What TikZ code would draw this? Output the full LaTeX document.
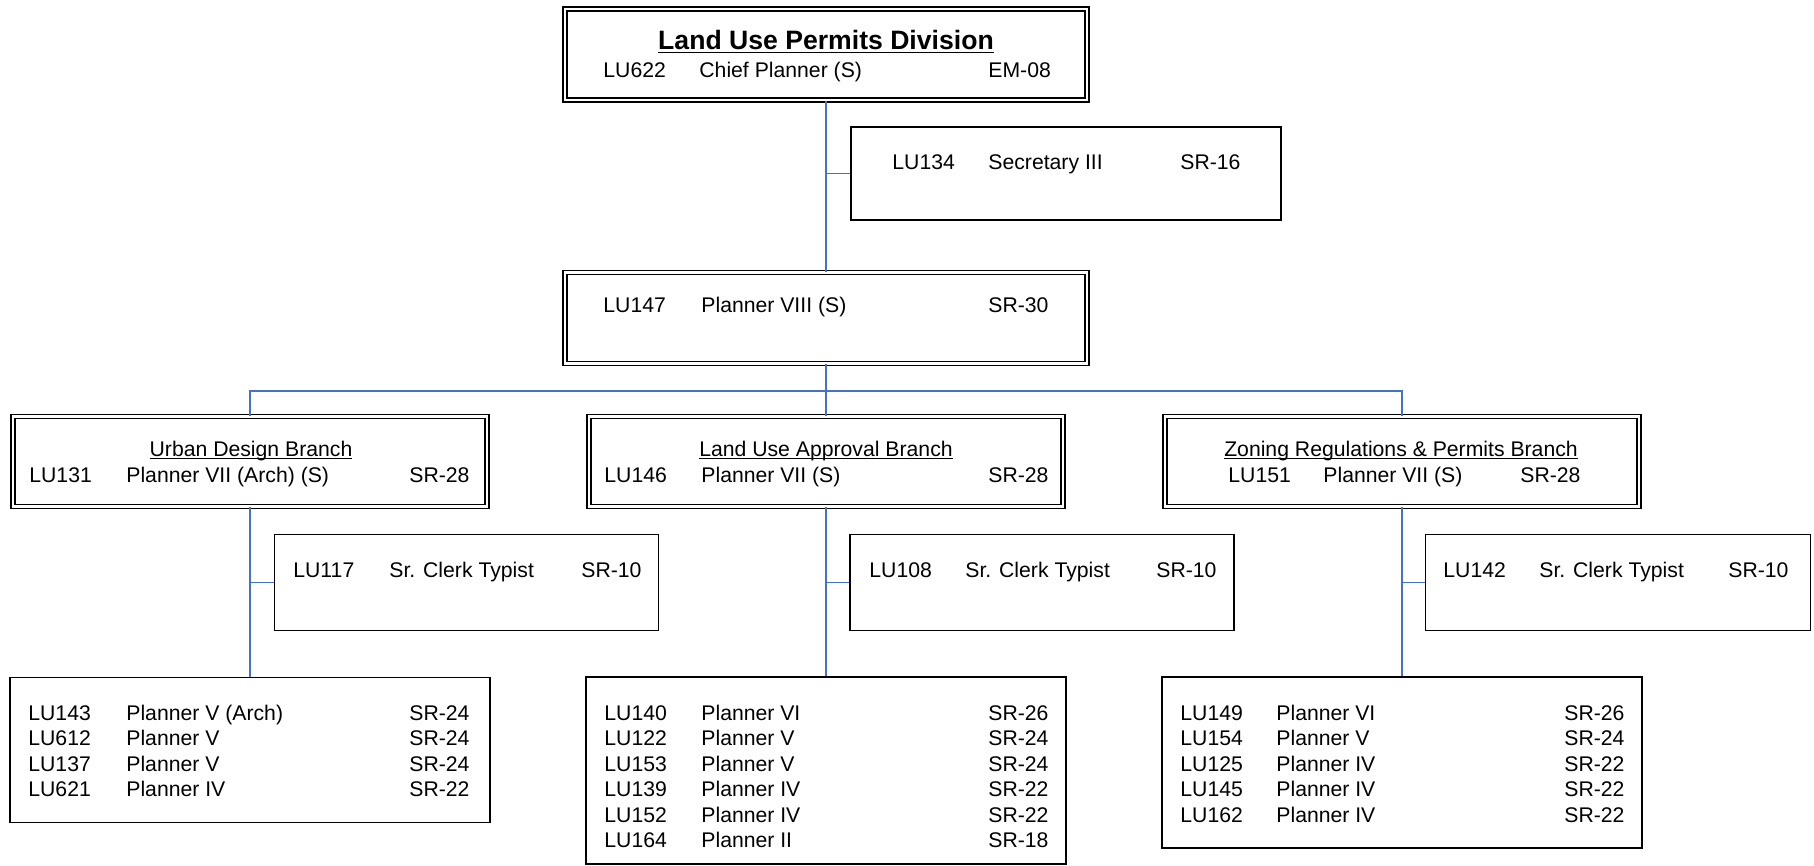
\documentclass[tikz,border=0pt]{standalone}
\usepackage{fontspec}
\setmainfont{Liberation Sans}
\definecolor{conn}{HTML}{4472C4}
\newcommand{\prow}[8]{%
  \node[txt] (#1a) at (#3,#2) {#6};
  \node[txt] (#1b) at (#4,#2) {#7};
  \node[txt] (#1c) at (#5,#2) {#8};}
\newcommand{\ttl}[1]{\underline{\smash{#1}}}
\begin{document}
\begin{tikzpicture}[x=0.5pt,y=-0.5pt,
  txt/.style={anchor=base west,inner sep=0pt,font=\fontsize{10.6}{12}\selectfont},
  ttlstyle/.style={anchor=base,inner sep=0pt,font=\fontsize{10.6}{12}\selectfont},
  dbox/.style={draw=black,line width=0.7pt,double=white,double distance=1.3pt,inner sep=0pt,fill=white},
  sbox/.style={draw=black,line width=0.9pt,inner sep=0pt,fill=white},
  link/.style={draw=conn,line width=0.9pt}]
\useasboundingbox (0,0) rectangle (1814,866);
% boxes
\node[dbox,minimum width=261pt,minimum height=45.5pt] (top) at (826,54.5) {};
\node[sbox,minimum width=215pt,minimum height=46.5pt] (sec) at (1066,173.5) {};
\node[dbox,minimum width=261pt,minimum height=45.5pt] (p147) at (826,318) {};
\node[dbox,minimum width=237pt,minimum height=45pt] (brl) at (250,461.5) {};
\node[dbox,minimum width=237pt,minimum height=45pt] (brm) at (826,461.5) {};
\node[dbox,minimum width=237pt,minimum height=45pt] (brr) at (1402,461.5) {};
\node[sbox,minimum width=192pt,minimum height=48pt] (cll) at (466.5,582.5) {};
\node[sbox,minimum width=192pt,minimum height=48pt] (clm) at (1042,582.5) {};
\node[sbox,minimum width=192.5pt,minimum height=48pt] (clr) at (1618,582.5) {};
\node[sbox,minimum width=240pt,minimum height=72.5pt] (bl) at (250,750) {};
\node[sbox,minimum width=240pt,minimum height=93.5pt] (bm) at (826,770.5) {};
\node[sbox,minimum width=240pt,minimum height=85.5pt] (br) at (1402,762.5) {};
% connectors
\draw[link] (top.south) -- (p147.north);
\draw[link] (top.south |- sec.west) -- (sec.west);
\coordinate (bus) at (826,391);
\draw[link] (p147.south) -- (brm.north);
\draw[link] (brl.north) |- (bus) -| (brr.north);
\draw[link] (brl.south) -- (bl.north);
\draw[link] (brl.south |- cll.west) -- (cll.west);
\draw[link] (brm.south) -- (bm.north);
\draw[link] (brm.south |- clm.west) -- (clm.west);
\draw[link] (brr.south) -- (br.north);
\draw[link] (brr.south |- clr.west) -- (clr.west);
% texts
\node[anchor=base,inner sep=0pt,font=\fontsize{13.3}{15}\selectfont\bfseries] (ttop) at (826,50) {\ttl{Land Use Permits Division}};
\prow{ra}{78}{603}{699}{988}{LU622}{Chief Planner (S)}{EM-08}
\prow{rb}{170}{892}{988}{1180}{LU134}{Secretary III}{SR-16}
\prow{rc}{312}{603}{701}{988}{LU147}{Planner VIII (S)}{SR-30}
\node[ttlstyle] (tl) at (251,456) {\ttl{Urban Design Branch}};
\node[ttlstyle] (tm) at (826,456) {\ttl{Land Use Approval Branch}};
\node[ttlstyle] (tr) at (1401,456) {\ttl{Zoning Regulations \& Permits Branch}};
\prow{rd}{482}{29}{126}{409}{LU131}{Planner VII (Arch) (S)}{SR-28}
\prow{re}{482}{604}{701}{988}{LU146}{Planner VII (S)}{SR-28}
\prow{rf}{482}{1228}{1323}{1520}{LU151}{Planner VII (S)}{SR-28}
\prow{rg}{577}{293}{389}{581}{LU117}{Sr. Clerk Typist}{SR-10}
\prow{rh}{577}{869}{965}{1156}{LU108}{Sr. Clerk Typist}{SR-10}
\prow{ri}{577}{1443}{1539}{1728}{LU142}{Sr. Clerk Typist}{SR-10}
% bottom left
\prow{la}{720}{28}{126}{409}{LU143}{Planner V (Arch)}{SR-24}
\prow{lb}{745.5}{28}{126}{409}{LU612}{Planner V}{SR-24}
\prow{lc}{771}{28}{126}{409}{LU137}{Planner V}{SR-24}
\prow{ld}{796.5}{28}{126}{409}{LU621}{Planner IV}{SR-22}
% bottom middle
\prow{ma}{720}{604}{701}{988}{LU140}{Planner VI}{SR-26}
\prow{mb}{745.5}{604}{701}{988}{LU122}{Planner V}{SR-24}
\prow{mc}{771}{604}{701}{988}{LU153}{Planner V}{SR-24}
\prow{md}{796.5}{604}{701}{988}{LU139}{Planner IV}{SR-22}
\prow{me}{822}{604}{701}{988}{LU152}{Planner IV}{SR-22}
\prow{mf}{847.5}{604}{701}{988}{LU164}{Planner II}{SR-18}
% bottom right
\prow{na}{720}{1180}{1276}{1564}{LU149}{Planner VI}{SR-26}
\prow{nb}{745.5}{1180}{1276}{1564}{LU154}{Planner V}{SR-24}
\prow{nc}{771}{1180}{1276}{1564}{LU125}{Planner IV}{SR-22}
\prow{nd}{796.5}{1180}{1276}{1564}{LU145}{Planner IV}{SR-22}
\prow{ne}{822}{1180}{1276}{1564}{LU162}{Planner IV}{SR-22}
\end{tikzpicture}
\end{document}
